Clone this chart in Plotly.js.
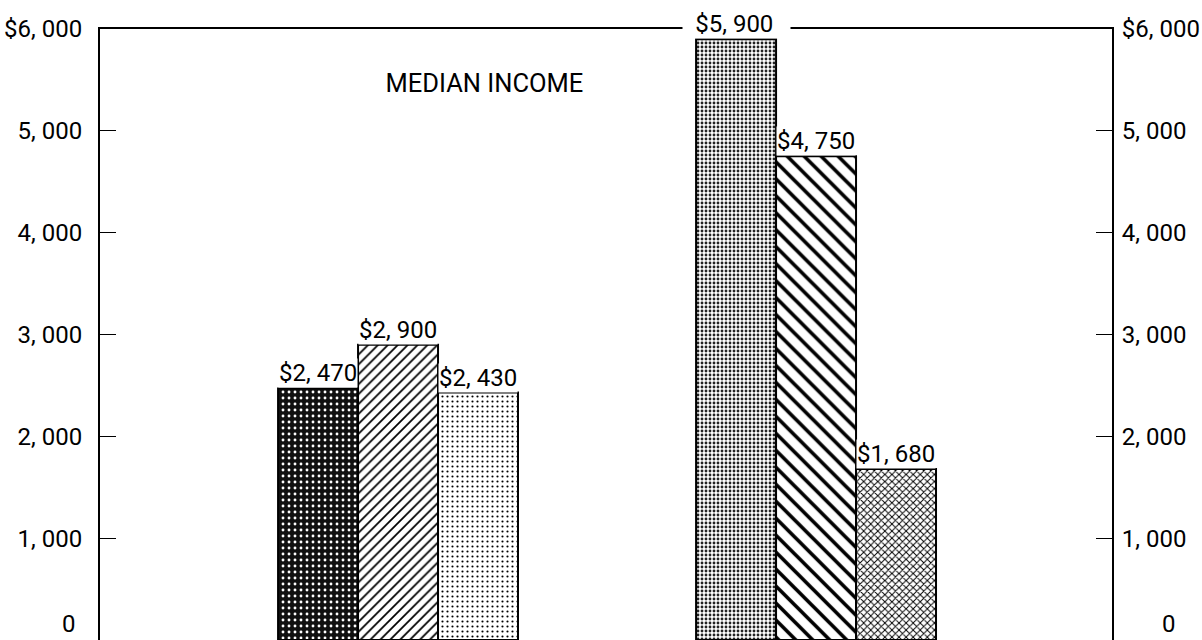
<!DOCTYPE html>
<html>
<head>
<meta charset="utf-8">
<script src="https://cdn.plot.ly/plotly-3.0.1.min.js"></script>
<style>html,body{margin:0;padding:0;background:#fff;}#chart{width:1202px;height:640px;}</style>
</head>
<body>
<div id="chart"></div>
<script>
// ---- data ----
var groups = [0, 1];                       // two groups of bars
var series1 = [2470, 5900];
var series2 = [2900, 4750];
var series3 = [2430, 1680];
var yTickVals = [1000, 2000, 3000, 4000, 5000, 6000];
var yTickLabels = ["1, 000", "2, 000", "3, 000", "4, 000", "5, 000", "$6, 000"];
var zeroLabel = "0";
var chartTitle = "MEDIAN INCOME";
var yMax = 6000;

var FONT = "Roboto, Liberation Sans, sans-serif";
var FS = 24;
function fmt(v) {
  var th = Math.floor(v / 1000), r = v % 1000;
  return "$" + th + ", " + ("00" + r).slice(-3);
}

var seriesList = [series1, series2, series3];
var patterns = [
  {shape: [".", "."], bgcolor: ["#111", "#fff"], fgcolor: ["#fff", "#222"], size: [6, 4], solidity: [0.18, 0.4]},
  {shape: ["/", "\\"], bgcolor: ["#fff", "#fff"], fgcolor: ["#000", "#000"], size: [7, 12], solidity: [0.25, 0.3]},
  {shape: [".", "x"], bgcolor: ["#fff", "#fff"], fgcolor: ["#000", "#000"], size: [5, 5], solidity: [0.15, 0.35]}
];

var bargap = 0.426;
var w = (1 - bargap) / 3;

var traces = seriesList.map(function (vals, i) {
  return {
    type: "bar",
    x: groups,
    y: vals,
    marker: {
      color: "#fff",
      line: {color: "#000", width: 2},
      pattern: Object.assign({fillmode: "replace"}, patterns[i])
    },
    hoverinfo: "none",
    showlegend: false
  };
});
// invisible trace so the right axis is drawn
traces.push({type: "scatter", x: [0], y: [0], yaxis: "y2", mode: "markers", marker: {opacity: 0}, showlegend: false, hoverinfo: "none"});

var annotations = [];
seriesList.forEach(function (vals, i) {
  vals.forEach(function (v, g) {
    // labels that reach the frame's top edge get extra white room to break the frame line
    var sp = (v > yMax * 0.9) ? "\u2002" : "";
    annotations.push({
      xref: "x", yref: "y", x: groups[g] + (i - 1) * w, y: v,
      text: sp + fmt(v) + sp + (sp ? "\u2009" : ""), showarrow: false, yanchor: "bottom", xanchor: "center",
      bgcolor: "#fff", borderpad: 0, yshift: 0,
      font: {family: FONT, size: FS, color: "#000"}
    });
  });
});
annotations.push({xref: "paper", yref: "y", x: 0, y: 0, xanchor: "right", yanchor: "bottom", xshift: -22, text: zeroLabel, showarrow: false, font: {family: FONT, size: FS, color: "#000"}});
annotations.push({xref: "paper", yref: "y", x: 1, y: 0, xanchor: "left", yanchor: "bottom", xshift: 48, text: zeroLabel, showarrow: false, font: {family: FONT, size: FS, color: "#000"}});

var yCommon = {
  range: [0, yMax], tickvals: yTickVals, ticktext: yTickLabels,
  ticks: "inside", ticklen: 16, tickwidth: 1, tickcolor: "#000",
  showline: true, linecolor: "#000", linewidth: 2,
  showgrid: false, zeroline: false, fixedrange: true,
  tickfont: {family: FONT, size: FS, color: "#000"}
};

var layout = {
  width: 1202, height: 640,
  margin: {l: 100, r: 90, t: 29, b: 0, pad: 0},
  paper_bgcolor: "#fff", plot_bgcolor: "#fff",
  barmode: "group", bargap: bargap, bargroupgap: 0,
  title: {text: chartTitle, x: 0.403, y: 0.87, xanchor: "center", yanchor: "middle", xref: "container", yref: "container",
          font: {family: FONT, size: 25.5, color: "#000"}},
  xaxis: {range: [-0.713, 1.708], showticklabels: false, ticks: "", showgrid: false, zeroline: false,
          showline: true, mirror: true, linecolor: "#000", linewidth: 2, fixedrange: true},
  yaxis: Object.assign({side: "left", ticklabelstandoff: 11}, yCommon),
  yaxis2: Object.assign({side: "right", overlaying: "y", anchor: "x", ticklabelstandoff: 3}, yCommon),
  annotations: annotations
};

Plotly.newPlot("chart", traces, layout, {displayModeBar: false, staticPlot: true});
</script>
</body>
</html>
